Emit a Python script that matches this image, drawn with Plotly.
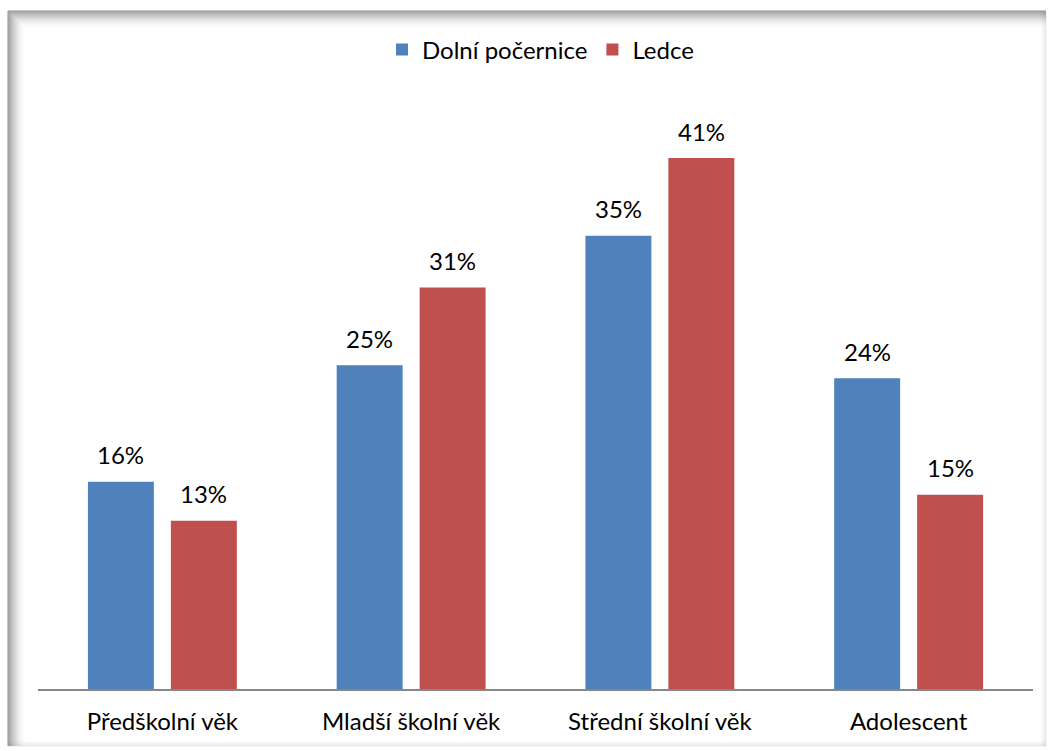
import plotly.graph_objects as go

categories = ["Předškolní věk", "Mladší školní věk", "Střední školní věk", "Adolescent"]
series_names = ["Dolní počernice", "Ledce"]
dolni = [16, 25, 35, 24]
ledce = [13, 31, 41, 15]
colors = ["#4F81BD", "#C0504D"]

W, H = 1049, 751
L, R, T, B = 38, 16, 100, 62
PW, PH = W - L - R, H - T - B
FONT = "Lato"
FS = 24

def px(x):
    return (x - L) / PW

def py(y):
    return (H - B - y) / PH

fig = go.Figure()
for name, vals, col in zip(series_names, [dolni, ledce], colors):
    fig.add_trace(go.Bar(x=categories, y=vals, name=name, marker_color=col,
                         marker_line_width=0, hoverinfo="skip"))

annotations = []
for shift, vals in zip([-41.5, 41.5], [dolni, ledce]):
    for c, v in zip(categories, vals):
        annotations.append(dict(x=c, y=v, xref="x", yref="y", text=f"{v}%",
                                showarrow=False, xshift=shift, yshift=27,
                                font=dict(family=FONT, size=FS, color="#000")))

shapes = []
steps = 18
for i in range(steps):
    a = 0.65 * (1 - i / steps) ** 2
    col = f"rgba(80,80,80,{a:.3f})"
    shapes.append(dict(type="line", xref="paper", yref="paper",
                       x0=px(8 + i), x1=px(1046), y0=py(11 + i), y1=py(11 + i),
                       line=dict(color=col, width=1)))
    shapes.append(dict(type="line", xref="paper", yref="paper",
                       x0=px(8 + i), x1=px(8 + i), y0=py(11 + i), y1=py(746),
                       line=dict(color=col, width=1)))
for i in range(6):
    a = 0.12 * (1 - i / 6)
    col = f"rgba(90,90,90,{a:.3f})"
    shapes.append(dict(type="line", xref="paper", yref="paper",
                       x0=px(1046 - i), x1=px(1046 - i), y0=py(11), y1=py(746),
                       line=dict(color=col, width=1)))
    shapes.append(dict(type="line", xref="paper", yref="paper",
                       x0=px(8), x1=px(1046), y0=py(746 - i), y1=py(746 - i),
                       line=dict(color=col, width=1)))

fig.update_layout(
    width=W, height=H,
    margin=dict(l=L, r=R, t=T, b=B),
    paper_bgcolor="white", plot_bgcolor="white",
    barmode="group", bargap=0.333, bargroupgap=0.205,
    font=dict(family=FONT, size=FS, color="#000"),
    legend=dict(orientation="h", x=0.505, xanchor="center", y=1.085, yanchor="middle",
                font=dict(family=FONT, size=FS, color="#000"), itemwidth=30,
                bgcolor="rgba(0,0,0,0)"),
    xaxis=dict(showline=True, linecolor="#878787", linewidth=1.5, ticks="",
               showgrid=False, ticklabelstandoff=10,
               tickfont=dict(family=FONT, size=FS, color="#000")),
    yaxis=dict(range=[0, 45.48], visible=False, showgrid=False, zeroline=False),
    annotations=annotations,
    shapes=shapes,
)

fig.write_html("out.html", config={"displayModeBar": False},
               post_script="document.body.style.margin='0';document.body.style.padding='0';")
